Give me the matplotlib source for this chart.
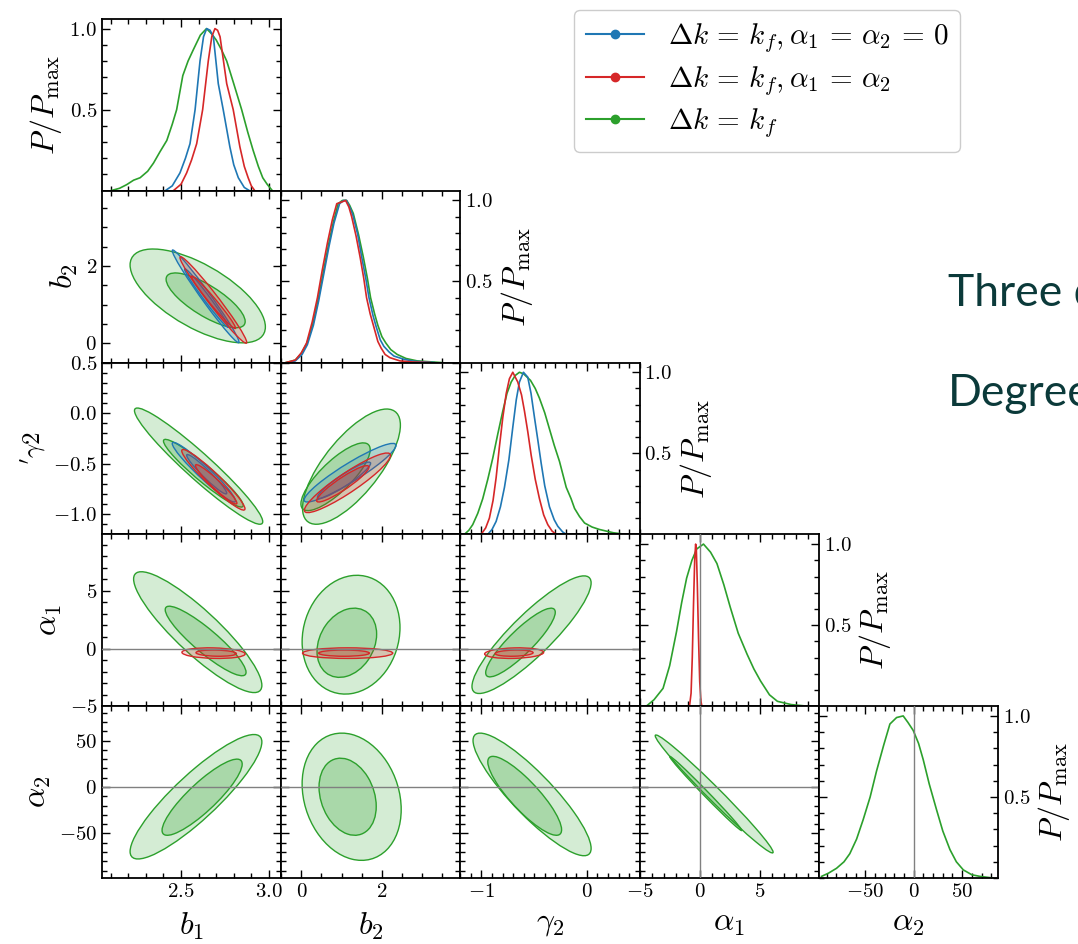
import numpy as np
import matplotlib.pyplot as plt
from matplotlib.path import Path
from matplotlib.patches import PathPatch
from matplotlib.transforms import Affine2D
from matplotlib.lines import Line2D
from matplotlib.colors import to_rgba
from matplotlib.ticker import MultipleLocator, FixedLocator

plt.rcParams['font.family'] = 'serif'
plt.rcParams['font.serif'] = ['cmr10']
plt.rcParams['mathtext.fontset'] = 'cm'
plt.rcParams['axes.formatter.use_mathtext'] = True

BLUE, RED, GREEN = '#1f77b4', '#d62728', '#2ca02c'

# ============================================
# AXES SETUP (b1, b2, gamma2, alpha1, alpha2)
# ============================================
xlabels = [r'$b_1$', r'$b_2$', r'$\gamma_2$', r'$\alpha_1$', r'$\alpha_2$']
ylabels = [None, r'$b_2$', r"${}'\gamma2$", r'$\alpha_1$', r'$\alpha_2$']
limits = [(2.05, 3.07), (-0.5, 3.95), (-1.2, 0.5), (-5, 9.9), (-98, 87)]
xmajor = [0.5, 2, 1, 5, 50]
ymajor = [0.5, 2, 0.5, 5, 50]
minors = [0.1, 0.5, 0.1, 1, 10]

legend_labels = [r'$\Delta k\,=\,k_f,\alpha_1\,=\,\alpha_2\,=\,0$',
                 r'$\Delta k\,=\,k_f,\alpha_1\,=\,\alpha_2$',
                 r'$\Delta k\,=\,k_f$']

# ============================================
# 1D MARGINALS (value, P/Pmax)
# ============================================
b1_blue = [(2.41, 0.0), (2.45, 0.03), (2.494, 0.11), (2.525, 0.2), (2.551, 0.29), (2.58, 0.5),
           (2.608, 0.8), (2.628, 0.95), (2.646, 1.0), (2.665, 0.99), (2.684, 0.95), (2.712, 0.66),
           (2.74, 0.5), (2.778, 0.27), (2.80, 0.16), (2.826, 0.08), (2.86, 0.02), (2.89, 0.0)]
b1_red = [(2.456, 0.0), (2.50, 0.04), (2.532, 0.11), (2.56, 0.19), (2.589, 0.29), (2.623, 0.5),
          (2.655, 0.8), (2.675, 0.95), (2.693, 1.0), (2.708, 0.99), (2.722, 0.95), (2.76, 0.66),
          (2.797, 0.5), (2.835, 0.27), (2.86, 0.15), (2.882, 0.08), (2.90, 0.03), (2.92, 0.0)]
b1_green = [(2.10, 0.0), (2.15, 0.015), (2.19, 0.037), (2.23, 0.065), (2.267, 0.08), (2.31, 0.12),
            (2.343, 0.17), (2.38, 0.24), (2.419, 0.31), (2.45, 0.41), (2.475, 0.5), (2.51, 0.71),
            (2.54, 0.8), (2.57, 0.87), (2.61, 0.96), (2.645, 1.0), (2.672, 0.97), (2.70, 0.93),
            (2.73, 0.87), (2.76, 0.8), (2.80, 0.66), (2.845, 0.5), (2.88, 0.36), (2.91, 0.25),
            (2.94, 0.15), (2.965, 0.08), (2.99, 0.04), (3.02, 0.0)]

b2_blue = [(-0.35, 0.0), (-0.15, 0.01), (0.02, 0.05), (0.15, 0.11), (0.30, 0.23), (0.43, 0.38),
           (0.56, 0.55), (0.69, 0.72), (0.81, 0.86), (0.95, 0.98), (1.05, 1.0), (1.12, 1.0),
           (1.20, 0.96), (1.28, 0.91), (1.40, 0.79), (1.50, 0.65), (1.60, 0.52), (1.68, 0.40),
           (1.78, 0.29), (1.86, 0.22), (1.96, 0.14), (2.05, 0.10), (2.18, 0.065), (2.30, 0.04),
           (2.55, 0.02), (2.8, 0.008), (3.3, 0.0)]
b2_red = [(-0.38, 0.0), (-0.15, 0.015), (0.0, 0.06), (0.13, 0.12), (0.27, 0.25), (0.40, 0.40),
          (0.52, 0.57), (0.65, 0.74), (0.77, 0.88), (0.88, 0.98), (1.0, 0.99), (1.1, 1.0),
          (1.18, 0.96), (1.25, 0.9), (1.36, 0.78), (1.46, 0.65), (1.55, 0.52), (1.62, 0.40),
          (1.71, 0.30), (1.80, 0.22), (1.90, 0.13), (1.98, 0.09), (2.08, 0.05), (2.2, 0.03),
          (2.45, 0.01), (2.8, 0.003), (3.2, 0.0)]
b2_green = [(-0.38, 0.0), (-0.15, 0.015), (-0.005, 0.054), (0.14, 0.12), (0.29, 0.24), (0.42, 0.39),
            (0.54, 0.55), (0.67, 0.72), (0.79, 0.86), (0.915, 0.98), (1.02, 1.0), (1.125, 1.0),
            (1.2, 0.97), (1.29, 0.92), (1.42, 0.79), (1.54, 0.65), (1.64, 0.52), (1.72, 0.40),
            (1.82, 0.30), (1.90, 0.23), (2.0, 0.16), (2.1, 0.12), (2.22, 0.08), (2.38, 0.05),
            (2.6, 0.025), (2.88, 0.01), (3.47, 0.0)]

g2_blue = [(-0.94, 0.0), (-0.90, 0.03), (-0.861, 0.08), (-0.82, 0.17), (-0.782, 0.29),
           (-0.74, 0.46), (-0.703, 0.66), (-0.67, 0.83), (-0.64, 0.94), (-0.602, 1.0),
           (-0.561, 0.97), (-0.53, 0.87), (-0.497, 0.72), (-0.465, 0.58), (-0.434, 0.44),
           (-0.40, 0.3), (-0.355, 0.17), (-0.31, 0.09), (-0.276, 0.05), (-0.23, 0.015), (-0.196, 0.0)]
g2_red = [(-1.003, 0.0), (-0.96, 0.04), (-0.925, 0.10), (-0.89, 0.21), (-0.861, 0.35),
          (-0.83, 0.54), (-0.798, 0.72), (-0.765, 0.87), (-0.735, 0.96), (-0.703, 1.0),
          (-0.656, 0.94), (-0.62, 0.86), (-0.592, 0.76), (-0.56, 0.63), (-0.529, 0.49),
          (-0.49, 0.34), (-0.45, 0.22), (-0.41, 0.12), (-0.371, 0.06), (-0.33, 0.02), (-0.291, 0.0)]
g2_green = [(-1.162, 0.0), (-1.12, 0.025), (-1.083, 0.06), (-1.035, 0.13), (-0.988, 0.22),
            (-0.94, 0.34), (-0.893, 0.47), (-0.845, 0.62), (-0.798, 0.76), (-0.758, 0.87),
            (-0.718, 0.94), (-0.68, 0.98), (-0.64, 1.0), (-0.6, 0.99), (-0.535, 0.95),
            (-0.49, 0.90), (-0.45, 0.84), (-0.40, 0.75), (-0.355, 0.65), (-0.31, 0.55),
            (-0.26, 0.45), (-0.196, 0.29), (-0.15, 0.22), (-0.117, 0.16), (-0.07, 0.11),
            (-0.022, 0.07), (0.05, 0.045), (0.12, 0.03), (0.25, 0.01), (0.37, 0.0)]

a1_red = [(-0.85, 0.0), (-0.72, 0.08), (-0.62, 0.3), (-0.52, 0.62), (-0.42, 0.9), (-0.34, 1.0),
          (-0.28, 0.96), (-0.2, 0.75), (-0.1, 0.42), (0.0, 0.15), (0.1, 0.03), (0.18, 0.0)]
a1_green = [(-4.44, 0.0), (-3.8, 0.04), (-3.05, 0.11), (-2.5, 0.25), (-1.93, 0.46), (-1.5, 0.64),
            (-1.09, 0.79), (-0.65, 0.9), (-0.25, 0.97), (0.31, 1.0), (0.9, 0.95), (1.43, 0.88),
            (2.0, 0.75), (2.54, 0.61), (3.2, 0.45), (3.94, 0.32), (4.5, 0.23), (5.06, 0.155),
            (5.8, 0.07), (6.46, 0.03), (7.6, 0.01), (8.97, 0.0)]

a2_green = [(-95.2, 0.01), (-88, 0.03), (-79.7, 0.06), (-72, 0.1), (-66, 0.15), (-59, 0.24),
            (-52.2, 0.36), (-45, 0.5), (-38.4, 0.66), (-31, 0.82), (-24.6, 0.95), (-17.7, 0.99),
            (-10.9, 1.0), (-6, 0.96), (-0.5, 0.91), (5, 0.83), (9.8, 0.73), (16, 0.58),
            (23.6, 0.42), (30, 0.29), (37.4, 0.175), (44, 0.1), (51.2, 0.05), (60, 0.02),
            (68.4, 0.01), (82, 0.0)]

# ============================================
# 2D CONTOURS: (centre x, centre y, half extent x, half extent y, correlation)
# first entry 95% region, second entry 68% region
# ============================================
b1_b2_green = [(2.595, 1.225, 0.385, 1.215, -0.66), (2.64, 1.11, 0.225, 0.71, -0.77)]
b1_b2_blue = [(2.64, 1.215, 0.19, 1.20, -0.985), (2.645, 1.17, 0.125, 0.76, -0.985)]
b1_b2_red = [(2.684, 1.12, 0.19, 1.12, -0.98), (2.685, 1.06, 0.125, 0.68, -0.98)]

b1_g2_green = [(2.60, -0.525, 0.365, 0.575, -0.955), (2.627, -0.595, 0.227, 0.335, -0.95)]
b1_g2_blue = [(2.63, -0.585, 0.18, 0.295, -0.96), (2.646, -0.605, 0.114, 0.195, -0.96)]
b1_g2_red = [(2.684, -0.66, 0.18, 0.30, -0.955), (2.70, -0.705, 0.118, 0.195, -0.955)]

b2_g2_green = [(1.245, -0.53, 1.215, 0.57, 0.72), (0.85, -0.63, 0.86, 0.335, 0.8)]
b2_g2_blue = [(1.21, -0.59, 1.14, 0.29, 0.93), (1.06, -0.665, 0.66, 0.18, 0.93)]
b2_g2_red = [(1.145, -0.69, 1.07, 0.295, 0.92), (1.03, -0.70, 0.65, 0.18, 0.92)]

b1_a1_green = [(2.595, 1.42, 0.365, 5.24, -0.88), (2.64, 0.655, 0.23, 3.015, -0.9)]
b1_a1_red = [(2.685, -0.4, 0.18, 0.46, -0.15), (2.70, -0.4, 0.115, 0.27, -0.15)]
b2_a1_green = [(1.235, 1.2, 1.215, 5.15, 0.12), (1.13, 0.5, 0.74, 3.0, 0.25)]
b2_a1_red = [(1.15, -0.4, 1.12, 0.46, 0.0), (1.06, -0.4, 0.63, 0.27, 0.0)]
g2_a1_green = [(-0.525, 1.2, 0.565, 5.1, 0.88), (-0.63, 0.52, 0.33, 2.98, 0.88)]
g2_a1_red = [(-0.69, -0.4, 0.28, 0.46, 0.15), (-0.69, -0.4, 0.18, 0.27, 0.15)]

b1_a2_green = [(2.585, -10.5, 0.375, 67, 0.88), (2.62, -11, 0.228, 41, 0.87)]
b2_a2_green = [(1.25, -10.5, 1.23, 68.5, -0.2), (1.15, -10.5, 0.71, 41.5, -0.25)]
g2_a2_green = [(-0.52, -8, 0.56, 66, -0.88), (-0.59, -9.5, 0.35, 42.5, -0.86)]
a1_a2_green = [(1.2, -7.5, 4.9, 63.5, -0.987), (0.5, -7, 3.0, 40, -0.995)]

diag_curves = {
    0: [(b1_green, GREEN), (b1_blue, BLUE), (b1_red, RED)],
    1: [(b2_green, GREEN), (b2_blue, BLUE), (b2_red, RED)],
    2: [(g2_green, GREEN), (g2_blue, BLUE), (g2_red, RED)],
    3: [(a1_green, GREEN), (a1_red, RED)],
    4: [(a2_green, GREEN)],
}
panel_contours = {
    (1, 0): [(b1_b2_green, GREEN), (b1_b2_blue, BLUE), (b1_b2_red, RED)],
    (2, 0): [(b1_g2_green, GREEN), (b1_g2_blue, BLUE), (b1_g2_red, RED)],
    (2, 1): [(b2_g2_green, GREEN), (b2_g2_blue, BLUE), (b2_g2_red, RED)],
    (3, 0): [(b1_a1_green, GREEN), (b1_a1_red, RED)],
    (3, 1): [(b2_a1_green, GREEN), (b2_a1_red, RED)],
    (3, 2): [(g2_a1_green, GREEN), (g2_a1_red, RED)],
    (4, 0): [(b1_a2_green, GREEN)],
    (4, 1): [(b2_a2_green, GREEN)],
    (4, 2): [(g2_a2_green, GREEN)],
    (4, 3): [(a1_a2_green, GREEN)],
}


def add_contour(ax, c, color, alpha):
    cx, cy, hx, hy, rho = c
    m = Affine2D.from_values(hx, hy * rho, 0, hy * np.sqrt(1 - rho ** 2), cx, cy)
    ax.add_patch(PathPatch(Path.unit_circle(), transform=m + ax.transData,
                           facecolor=to_rgba(color, alpha), edgecolor=color, lw=1.0))


fig, axes = plt.subplots(5, 5, figsize=(10.78, 9.44), dpi=100)
fig.subplots_adjust(left=0.0946, right=0.9258, bottom=0.0699, top=0.98, wspace=0, hspace=0)

for i in range(5):
    for j in range(5):
        ax = axes[i, j]
        if j > i:
            ax.remove()
            continue
        ax.set_xlim(limits[j])
        ax.xaxis.set_major_locator(MultipleLocator(xmajor[j]))
        ax.xaxis.set_minor_locator(MultipleLocator(minors[j]))
        if i == j:
            for pts, col in diag_curves[i]:
                x, p = zip(*pts)
                ax.plot(x, p, color=col, lw=1.2)
            ax.set_ylim(0, 1.06)
            ax.yaxis.set_major_locator(FixedLocator([0.5, 1.0]))
            ax.yaxis.set_minor_locator(MultipleLocator(0.1))
            if i > 0:
                ax.yaxis.set_label_position('right')
            ax.set_ylabel(r'$P/P_{\rm max}$', fontsize=23)
        else:
            for conts, col in panel_contours[(i, j)]:
                add_contour(ax, conts[0], col, 0.2)
                add_contour(ax, conts[1], col, 0.25)
            ax.set_ylim(limits[i])
            ax.yaxis.set_major_locator(MultipleLocator(ymajor[i]))
            ax.yaxis.set_minor_locator(MultipleLocator(minors[i]))
            if j == 0:
                ax.set_ylabel(ylabels[i], fontsize=18 if i == 2 else 23)
        # reference lines at alpha = 0
        if i >= 3 and i != j:
            ax.axhline(0, color='grey', lw=1.0, zorder=4)
        if j >= 3:
            ax.axvline(0, color='grey', lw=1.0, zorder=4)
        ax.tick_params(which='both', direction='in', top=True, bottom=True, left=True, right=True,
                       labelbottom=(i == 4), labelleft=(j == 0), labelright=(i == j and i > 0),
                       labelsize=15, width=1.0)
        if i == j and i > 0:
            ax.tick_params(labelleft=False)
        ax.tick_params(which='major', length=6)
        ax.tick_params(which='minor', length=3.5)
        for s in ax.spines.values():
            s.set_linewidth(1.3)
        if i == 4:
            ax.set_xlabel(xlabels[j], fontsize=23, labelpad=7)

handles = [Line2D([], [], color=c, marker='o', ms=6, lw=1.5) for c in (BLUE, RED, GREEN)]
fig.legend(handles, legend_labels, loc='upper right', bbox_to_anchor=(960 / 1078, 1 - 10 / 944),
           borderaxespad=0, fontsize=21, handlelength=2.0, labelspacing=0.3,
           framealpha=1, edgecolor='0.8')

fig.text(948 / 1078, 1 - 306 / 944, 'Three d', family='Lato', fontsize=32, color='#0b3a3a')
fig.text(948 / 1078, 1 - 406 / 944, 'Degree', family='Lato', fontsize=32, color='#0b3a3a')

plt.savefig("out.png", dpi=100)
